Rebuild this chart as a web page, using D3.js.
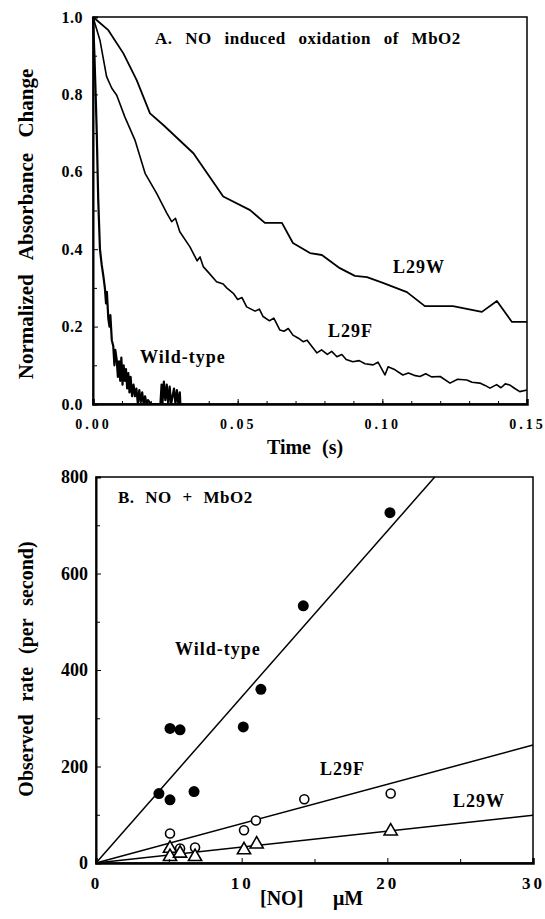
<!DOCTYPE html>
<html>
<head>
<meta charset="utf-8">
<script src="https://cdn.jsdelivr.net/npm/d3@7"></script>
<style>
  body { margin: 0; background: #fff; }
  text { font-family: "Liberation Serif", "Times New Roman", serif; font-weight: bold; fill: #000; }
</style>
</head>
<body>
<div id="chart"></div>
<script>
// ---- Panel A: normalized absorbance change vs time ----
const l29wCurve = [
  [0, 1.0], [0.0053, 0.966], [0.0105, 0.906], [0.0151, 0.837], [0.0197, 0.751],
  [0.0243, 0.721], [0.0347, 0.648], [0.045, 0.536], [0.0543, 0.501], [0.0594, 0.468],
  [0.0653, 0.468], [0.0691, 0.416], [0.075, 0.390], [0.0791, 0.385], [0.0853, 0.351],
  [0.0905, 0.331], [0.0947, 0.328], [0.1002, 0.313], [0.1085, 0.289], [0.1147, 0.253],
  [0.1244, 0.253], [0.1344, 0.238], [0.1396, 0.266], [0.1448, 0.212], [0.15, 0.212]
];
const l29fCurve = [
  [0, 1.0], [0.0024, 0.94], [0.0047, 0.846], [0.0065, 0.816], [0.0082, 0.798],
  [0.011, 0.742], [0.0145, 0.682], [0.018, 0.596], [0.022, 0.544], [0.0255, 0.493],
  [0.0272, 0.471], [0.0285, 0.48], [0.030, 0.445], [0.0335, 0.406], [0.036, 0.37],
  [0.037, 0.38], [0.0381, 0.355], [0.0405, 0.335], [0.0427, 0.316], [0.045, 0.31],
  [0.0462, 0.30], [0.0485, 0.286], [0.050, 0.27], [0.0515, 0.275], [0.0531, 0.251],
  [0.056, 0.24], [0.0575, 0.245], [0.0588, 0.226], [0.061, 0.215], [0.0625, 0.222],
  [0.0646, 0.191], [0.066, 0.188], [0.0675, 0.195], [0.0691, 0.178], [0.071, 0.17],
  [0.0726, 0.161], [0.074, 0.165], [0.0774, 0.132], [0.079, 0.14], [0.081, 0.128],
  [0.0825, 0.136], [0.0843, 0.122], [0.086, 0.128], [0.0875, 0.115], [0.0898, 0.109],
  [0.092, 0.112], [0.094, 0.104], [0.0968, 0.101], [0.0985, 0.108], [0.1009, 0.075],
  [0.102, 0.096], [0.104, 0.09], [0.1071, 0.075], [0.109, 0.08], [0.111, 0.074],
  [0.113, 0.071], [0.115, 0.078], [0.117, 0.07], [0.12, 0.071], [0.1234, 0.054],
  [0.126, 0.064], [0.1292, 0.062], [0.131, 0.056], [0.1337, 0.054], [0.1355, 0.048],
  [0.1372, 0.041], [0.1395, 0.05], [0.141, 0.042], [0.1425, 0.052], [0.1441, 0.049],
  [0.1458, 0.04], [0.1475, 0.032], [0.15, 0.036]
];
const wildCurve = [
  [0, 1.0], [0.0005, 0.9], [0.001, 0.78], [0.0013, 0.70], [0.0018, 0.53],
  [0.0024, 0.40], [0.003, 0.36], [0.0036, 0.33], [0.0041, 0.30], [0.0045, 0.26],
  [0.0048, 0.29], [0.0053, 0.22], [0.0057, 0.20], [0.006, 0.23], [0.0065, 0.165],
  [0.007, 0.15], [0.0074, 0.10], [0.0077, 0.14], [0.0082, 0.114], [0.0086, 0.07],
  [0.009, 0.11], [0.0094, 0.06], [0.0098, 0.12], [0.0102, 0.05], [0.0106, 0.10],
  [0.011, 0.06], [0.0114, 0.09], [0.0118, 0.04], [0.0122, 0.08], [0.0126, 0.03],
  [0.013, 0.07], [0.0135, 0.02], [0.014, 0.05], [0.0145, 0.02], [0.015, 0.04],
  [0.0155, 0.0], [0.016, 0.036], [0.0165, 0.005], [0.017, 0.03], [0.0175, 0.0],
  [0.018, 0.02], [0.0185, 0.0], [0.019, 0.01], [0.02, 0.0], [0.0233, 0.0],
  [0.0237, 0.05], [0.024, 0.0], [0.0245, 0.058], [0.025, 0.01], [0.0255, 0.05],
  [0.026, 0.0], [0.0265, 0.045], [0.027, 0.0], [0.028, 0.04], [0.0285, 0.0],
  [0.029, 0.036], [0.0295, 0.0], [0.03, 0.03], [0.0302, 0.0]
];
const timeTicks = [0, 0.05, 0.10, 0.15];
const absTicks = [0.0, 0.2, 0.4, 0.6, 0.8, 1.0];

// ---- Panel B: observed rate vs [NO] ----
const wtConc = [4.32, 5.08, 5.08, 5.77, 6.73, 10.11, 11.32, 14.23, 20.18];
const wtRate = [144, 131, 279, 276, 148, 282, 360, 533, 726];
const l29fConc = [5.08, 5.77, 6.8, 10.16, 10.98, 14.3, 20.23];
const l29fRate = [61, 30, 32, 68, 88, 132, 144];
const l29wConc = [5.08, 5.08, 5.77, 6.8, 10.16, 11.03, 20.23];
const l29wRate = [30, 13, 20, 13, 27, 39, 66];
const fitSlopes = { wt: 34.4, l29f: 8.15, l29w: 3.3 };
const concTicks = [0, 10, 20, 30];
const rateTicks = [0, 200, 400, 600, 800];

function drawFigure() {
    let svg = d3.select("#chart")
        .append("svg")
        .attr("width", 545)
        .attr("height", 919);

    // ===== Panel A =====
    let xA = d3.scaleLinear().domain([0, 0.15]).range([93, 527]);
    let yA = d3.scaleLinear().domain([0, 1.0]).range([404, 17]);

    let gA = svg.append("g");

    let line = d3.line()
        .x(function(d) { return xA(d[0]); })
        .y(function(d) { return yA(d[1]); });

    gA.append("path").datum(l29wCurve)
        .attr("fill", "none").attr("stroke", "#000").attr("stroke-width", 1.8)
        .attr("stroke-linejoin", "round")
        .attr("d", line);
    gA.append("path").datum(l29fCurve)
        .attr("fill", "none").attr("stroke", "#000").attr("stroke-width", 1.6)
        .attr("stroke-linejoin", "round")
        .attr("d", line);
    gA.append("path").datum(wildCurve)
        .attr("fill", "none").attr("stroke", "#000").attr("stroke-width", 2.2)
        .attr("stroke-linejoin", "round")
        .attr("d", line);

    // frame
    gA.append("rect")
        .attr("x", 93).attr("y", 17).attr("width", 434).attr("height", 387)
        .attr("fill", "none").attr("stroke", "#000").attr("stroke-width", 1.5);

    // axes (ticks point inward)
    gA.append("g")
        .attr("transform", "translate(0,404)")
        .call(d3.axisBottom(xA).tickValues(d3.range(0, 0.151, 0.01)).tickSize(-3).tickFormat(""))
        .call(g => g.select(".domain").remove());
    gA.append("g")
        .attr("class", "xA")
        .attr("transform", "translate(0,404)")
        .call(d3.axisBottom(xA).tickValues(timeTicks).tickSize(-5).tickPadding(15).tickFormat(d3.format(".2f")))
        .call(g => g.select(".domain").attr("stroke-width", 2.5));
    gA.append("g")
        .attr("transform", "translate(93,0)")
        .call(d3.axisLeft(yA).tickValues(d3.range(0.1, 1.0, 0.2)).tickSize(-4).tickFormat(""))
        .call(g => g.select(".domain").remove());
    gA.append("g")
        .attr("transform", "translate(93,0)")
        .call(d3.axisLeft(yA).tickValues(absTicks).tickSize(-5).tickPadding(10).tickFormat(d3.format(".1f")))
        .call(g => g.select(".domain").attr("stroke-width", 2));

    gA.selectAll(".tick text").style("font-size", "16px").style("letter-spacing", "0.5px");
    gA.selectAll(".xA .tick text").style("font-size", "14px").style("letter-spacing", "3px");

    gA.append("text")
        .attr("x", 155).attr("y", 44)
        .style("font-size", "17px").style("letter-spacing", "0.5px").style("word-spacing", "8px")
        .text("A. NO induced oxidation of MbO2");
    gA.append("text").attr("x", 393).attr("y", 273)
        .style("font-size", "18px").style("letter-spacing", "1px").text("L29W");
    gA.append("text").attr("x", 328).attr("y", 337)
        .style("font-size", "18px").style("letter-spacing", "1px").text("L29F");
    gA.append("text").attr("x", 140).attr("y", 363)
        .style("font-size", "18px").style("letter-spacing", "1px").text("Wild-type");

    gA.append("text")
        .attr("transform", "translate(33,224) rotate(-90)")
        .attr("text-anchor", "middle")
        .style("font-size", "21px").style("word-spacing", "10px")
        .text("Normalized Absorbance Change");
    gA.append("text")
        .attr("x", 305).attr("y", 454)
        .attr("text-anchor", "middle")
        .style("font-size", "20px").style("word-spacing", "6px")
        .text("Time (s)");

    // ===== Panel B =====
    let xB = d3.scaleLinear().domain([0, 30]).range([96, 533]);
    let yB = d3.scaleLinear().domain([0, 800]).range([863, 477]);

    let gB = svg.append("g");

    // fitted lines through origin
    let fits = [fitSlopes.wt, fitSlopes.l29f, fitSlopes.l29w];
    gB.selectAll(".fit")
        .data(fits)
        .join("line")
        .attr("x1", xB(0)).attr("y1", yB(0))
        .attr("x2", function(d) { return xB(Math.min(30, 800 / d)); })
        .attr("y2", function(d) { return yB(Math.min(30, 800 / d) * d); })
        .attr("stroke", "#000").attr("stroke-width", 1.5);

    gB.append("g")
        .selectAll("circle")
        .data(d3.zip(wtConc, wtRate))
        .join("circle")
        .attr("cx", function(d) { return xB(d[0]); })
        .attr("cy", function(d) { return yB(d[1]); })
        .attr("r", 5.5)
        .attr("fill", "#000");

    gB.append("g")
        .selectAll("circle")
        .data(d3.zip(l29fConc, l29fRate))
        .join("circle")
        .attr("cx", function(d) { return xB(d[0]); })
        .attr("cy", function(d) { return yB(d[1]); })
        .attr("r", 4.5)
        .attr("fill", "#fff")
        .attr("stroke", "#000").attr("stroke-width", 1.6);

    let tri = d3.symbol().type(d3.symbolTriangle).size(75);
    gB.append("g")
        .selectAll("path")
        .data(d3.zip(l29wConc, l29wRate))
        .join("path")
        .attr("transform", function(d) { return "translate(" + xB(d[0]) + "," + yB(d[1]) + ")"; })
        .attr("d", tri)
        .attr("fill", "#fff")
        .attr("stroke", "#000").attr("stroke-width", 1.6);

    gB.append("rect")
        .attr("x", 96).attr("y", 477).attr("width", 437).attr("height", 386)
        .attr("fill", "none").attr("stroke", "#000").attr("stroke-width", 1.5);

    gB.append("g")
        .attr("transform", "translate(0,863)")
        .call(d3.axisBottom(xB).tickValues([5, 15, 25]).tickSize(-4).tickFormat(""))
        .call(g => g.select(".domain").remove());
    gB.append("g")
        .attr("class", "xB")
        .attr("transform", "translate(0,863)")
        .call(d3.axisBottom(xB).tickValues(concTicks).tickSize(-5).tickPadding(14))
        .call(g => g.select(".domain").attr("stroke-width", 2.5));
    gB.append("g")
        .attr("transform", "translate(96,0)")
        .call(d3.axisLeft(yB).tickValues([100, 300, 500, 700]).tickSize(-4).tickFormat(""))
        .call(g => g.select(".domain").remove());
    gB.append("g")
        .attr("transform", "translate(96,0)")
        .call(d3.axisLeft(yB).tickValues(rateTicks).tickSize(-5).tickPadding(8))
        .call(g => g.select(".domain").attr("stroke-width", 2));

    gB.selectAll(".tick text").style("font-size", "18px");
    gB.selectAll(".xB .tick text").style("font-size", "17px").style("letter-spacing", "3px");

    gB.append("text")
        .attr("x", 118).attr("y", 503)
        .style("font-size", "17px").style("letter-spacing", "0.5px").style("word-spacing", "6px")
        .text("B. NO + MbO2");
    gB.append("text").attr("x", 175).attr("y", 655)
        .style("font-size", "18px").style("letter-spacing", "1px").text("Wild-type");
    gB.append("text").attr("x", 320).attr("y", 775)
        .style("font-size", "18px").style("letter-spacing", "1px").text("L29F");
    gB.append("text").attr("x", 453).attr("y", 807)
        .style("font-size", "18px").style("letter-spacing", "1px").text("L29W");

    gB.append("text")
        .attr("transform", "translate(33,669) rotate(-90)")
        .attr("text-anchor", "middle")
        .style("font-size", "20px").style("word-spacing", "8px")
        .text("Observed rate (per second)");
    gB.append("text").attr("x", 260).attr("y", 905).style("font-size", "20px").text("[NO]");
    gB.append("text").attr("x", 333).attr("y", 905).style("font-size", "20px").text("μM");
}

drawFigure();
</script>
</body>
</html>
